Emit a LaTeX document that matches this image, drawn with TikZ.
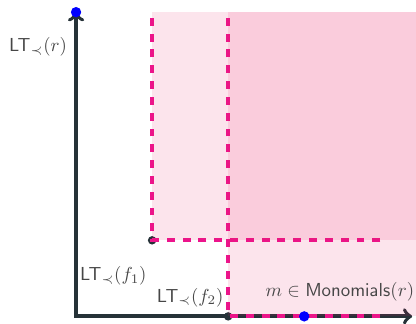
\documentclass[tikz,border=0pt]{standalone}
\usepackage{amsmath}
\usepackage{amssymb}
\usepackage{tikz}
\usepackage{xcolor}
\usetikzlibrary{arrows,positioning,calc}

\definecolor{axiscol}{RGB}{38,50,56}
\definecolor{dashpink}{RGB}{236,20,140}
\definecolor{fillpink}{RGB}{233,30,99}
\definecolor{labelgray}{RGB}{70,70,70}

\tikzset{
  axis/.style={line width=2pt, draw=axiscol, to-to},
  ideal/.style={fill=fillpink, fill opacity=0.12},
  border/.style={draw=dashpink, line width=2pt, dash pattern=on 4.2pt off 4.2pt},
  lead/.style={circle, fill=axiscol, inner sep=0pt, minimum size=4.5pt},
  bluedot/.style={circle, fill=blue, inner sep=0pt, minimum size=5.5pt},
  lbl/.style={text=labelgray}
}

\begin{document}
\begin{tikzpicture}[x=1.42cm, y=1.42cm]
    \useasboundingbox (-1,-0.09) rectangle (4.47,4.16);

    % axes
    \coordinate (O) at (0,0);
    \coordinate (xend) at (4.42,0);
    \coordinate (yend) at (0,4);
    \draw[axis] (xend) -- (O) -- (yend);

    % leading terms of f1, f2
    \node[lead] (f1) at (1,1) {};
    \node[lead] (f2) at (2,0) {};

    % dashed borders of the two ideals
    \coordinate (f1r) at (4,1);
    \coordinate (f1t) at (1,4);
    \coordinate (f2r) at (4,0);
    \coordinate (f2t) at (2,4);
    \draw[border] (f1r) -- (f1.center) -- (f1t);
    \draw[border] (f2r) -- (f2.center) -- (f2t);

    % shaded regions
    \fill[ideal] (f1.center) rectangle (4.47,4);
    \fill[ideal] (f2.center) rectangle (4.47,4);

    % blue points
    \node[bluedot] (r) at (yend) {};
    \node[bluedot] (m) at (3,0) {};

    % labels
    \node[lbl] (lr) at (-0.5,3.54) {$\mathsf{LT}_{\prec}(r)$};
    \node[lbl] (lf1) at (0.49,0.53) {$\mathsf{LT}_{\prec}(f_1)$};
    \node[lbl] (lf2) at (1.5,0.25) {$\mathsf{LT}_{\prec}(f_2)$};
    \node[lbl] (lm) at (3.47,0.32) {$m \in \mathsf{Monomials}(r)$};
\end{tikzpicture}
\end{document}
